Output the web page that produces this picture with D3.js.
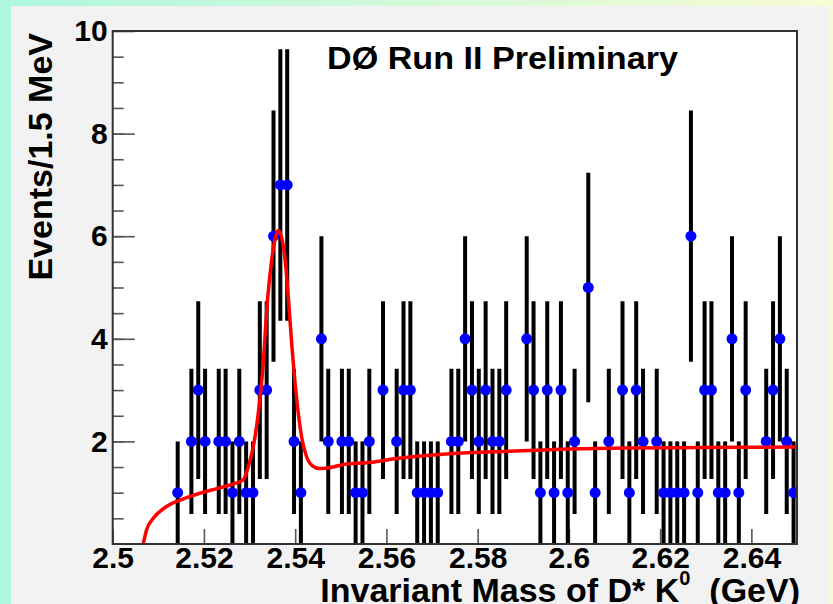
<!DOCTYPE html>
<html>
<head>
<meta charset="utf-8">
<script src="https://cdn.jsdelivr.net/npm/d3@7"></script>
<style>
body { margin: 0; }
text { font-family: "Liberation Sans", Arial, sans-serif; font-weight: bold; fill: black; }
</style>
</head>
<body>
<div id="viz"></div>
<script>
var width = 833
var height = 604

// histogram: 100 bins of 1.5 MeV from 2.5 to 2.65 GeV
var massLo = 2.5
var massHi = 2.65
var binWidth = 0.0015
var counts = [
    0, 0, 0, 0, 0, 0, 0, 0, 0, 1,
    0, 2, 3, 2, 0, 2, 2, 1, 2, 1,
    1, 3, 3, 6, 7, 7, 2, 1, 0, 0,
    4, 2, 0, 2, 2, 1, 1, 2, 0, 3,
    0, 2, 3, 3, 1, 1, 1, 1, 0, 2,
    2, 4, 3, 2, 3, 2, 2, 3, 0, 0,
    4, 3, 1, 3, 1, 3, 1, 2, 0, 5,
    1, 0, 2, 0, 3, 1, 3, 2, 0, 2,
    1, 1, 1, 1, 6, 1, 3, 3, 1, 1,
    4, 1, 3, 0, 0, 2, 3, 4, 2, 1
]

// fit curve
var fitMass = [2.5067, 2.5074, 2.5089, 2.5118, 2.5155, 2.5191, 2.5228, 2.5264, 2.5286,
    2.5297, 2.5308, 2.5319, 2.5330, 2.5338, 2.5348, 2.5356, 2.5363, 2.5371, 2.5379,
    2.5385, 2.5392, 2.5403, 2.5414, 2.5425, 2.5437, 2.5454, 2.5483, 2.5501, 2.5574,
    2.5618, 2.5738, 2.5869, 2.6000, 2.6121, 2.6284, 2.6500]
var fitValue = [0, 0.27, 0.50, 0.73, 0.88, 0.99, 1.08, 1.17, 1.25,
    1.50, 1.89, 2.54, 3.52, 4.60, 5.50, 5.95, 6.11, 5.95, 5.45,
    4.80, 3.95, 2.85, 2.09, 1.70, 1.53, 1.47, 1.50, 1.54, 1.60,
    1.66, 1.76, 1.81, 1.85, 1.87, 1.88, 1.89]

var xTicks = [2.5, 2.52, 2.54, 2.56, 2.58, 2.6, 2.62, 2.64]
var xTickLabels = ["2.5", "2.52", "2.54", "2.56", "2.58", "2.6", "2.62", "2.64"]
var yTicks = [2, 4, 6, 8, 10]
var yMinorTicks = d3.range(0.5, 10, 0.5)

var plotLeft = 112.7, plotRight = 797, plotTop = 31, plotBottom = 544

var svg = d3
    .select("#viz")
    .append("svg")
    .attr("width", width)
    .attr("height", height);

var x = d3.scaleLinear().domain([massLo, massHi]).range([plotLeft, plotRight]);
var y = d3.scaleLinear().domain([0, 10]).range([plotBottom, plotTop]);

// page background
var grad = svg.append("defs").append("linearGradient")
    .attr("id", "bg")
    .attr("x1", "0").attr("x2", "1").attr("y1", "0").attr("y2", "0");
grad.append("stop").attr("offset", "0").attr("stop-color", "#aef7df");
grad.append("stop").attr("offset", "1").attr("stop-color", "#f8fbd4");
svg.select("defs").append("clipPath").attr("id", "plotclip")
    .append("rect")
    .attr("x", plotLeft).attr("y", plotTop)
    .attr("width", plotRight - plotLeft).attr("height", plotBottom - plotTop);

svg.append("rect").attr("width", width).attr("height", height).attr("fill", "url(#bg)");
svg.append("rect")
    .attr("x", 11).attr("y", 6)
    .attr("width", 818).attr("height", height - 6)
    .attr("fill", "#f2f2f2");
svg.append("rect")
    .attr("x", plotLeft).attr("y", plotTop)
    .attr("width", plotRight - plotLeft).attr("height", plotBottom - plotTop)
    .attr("fill", "white");

// axes
var yMinor = svg.append("g")
    .attr("transform", "translate(" + plotLeft + ",0)")
    .call(d3.axisLeft(y).tickValues(yMinorTicks).tickSize(-11).tickFormat(""));
var yMajor = svg.append("g")
    .attr("transform", "translate(" + plotLeft + ",0)")
    .call(d3.axisLeft(y).tickValues(yTicks).tickSize(-22).tickPadding(5).tickFormat(d3.format("d")));
var xMajor = svg.append("g")
    .attr("transform", "translate(0," + plotBottom + ")")
    .call(d3.axisBottom(x).tickValues(xTicks).tickSize(-15).tickPadding(3)
        .tickFormat(function (d, i) { return xTickLabels[i]; }));

[yMinor, yMajor, xMajor].forEach(function (g) {
    g.select(".domain").remove();
    g.selectAll(".tick line").attr("stroke", "#555").attr("stroke-width", 1.6);
    g.selectAll("text").attr("font-size", 30).attr("font-family", null).attr("fill", "black");
});

// error bars and points
var bins = [];
counts.forEach(function (n, i) {
    if (n > 0) bins.push({ m: massLo + (i + 0.5) * binWidth, n: n });
});

var marks = svg.append("g").attr("clip-path", "url(#plotclip)");
marks.selectAll(".err")
    .data(bins)
    .enter()
    .append("line")
    .attr("class", "err")
    .attr("x1", function (d) { return x(d.m); })
    .attr("x2", function (d) { return x(d.m); })
    .attr("y1", function (d) { return y(Math.max(0, d.n - Math.sqrt(d.n))); })
    .attr("y2", function (d) { return y(d.n + Math.sqrt(d.n)); })
    .attr("stroke", "black")
    .attr("stroke-width", 4);
marks.selectAll(".pt")
    .data(bins)
    .enter()
    .append("circle")
    .attr("class", "pt")
    .attr("cx", function (d) { return x(d.m); })
    .attr("cy", function (d) { return y(d.n); })
    .attr("r", 5.5)
    .attr("fill", "#0000ff");

// fit
var line = d3.line()
    .x(function (d, i) { return x(fitMass[i]); })
    .y(function (d) { return y(d); })
    .curve(d3.curveMonotoneX);
marks.append("path")
    .attr("d", line(fitValue))
    .attr("fill", "none")
    .attr("stroke", "#ff0000")
    .attr("stroke-width", 3.5);

// frame
svg.append("rect")
    .attr("x", plotLeft).attr("y", plotTop)
    .attr("width", plotRight - plotLeft).attr("height", plotBottom - plotTop)
    .attr("fill", "none")
    .attr("stroke", "#333")
    .attr("stroke-width", 2);

// labels
svg.append("text")
    .attr("x", 327).attr("y", 69)
    .attr("font-size", 31)
    .attr("textLength", 351)
    .attr("lengthAdjust", "spacingAndGlyphs")
    .text("DØ Run II Preliminary");

svg.append("text")
    .attr("transform", "translate(52,33) rotate(-90)")
    .attr("text-anchor", "end")
    .attr("font-size", 34)
    .text("Events/1.5 MeV");

var xt = svg.append("text")
    .attr("x", 800).attr("y", 602)
    .attr("text-anchor", "end")
    .attr("font-size", 34);
xt.append("tspan").text("Invariant Mass of D* K");
xt.append("tspan").attr("font-size", 20).attr("dy", -17).text("0");
xt.append("tspan").attr("dy", 17).text("\u00a0\u00a0(GeV)");
</script>
</body>
</html>
